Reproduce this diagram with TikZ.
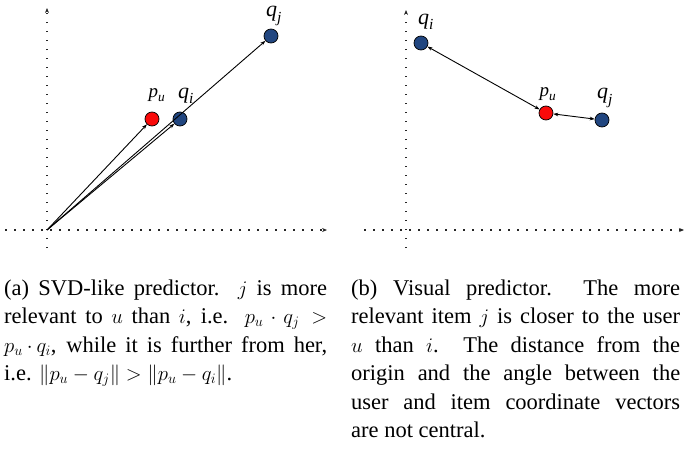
\documentclass[tikz,border=0pt]{standalone}
\usepackage{amsmath}
\usepackage{fontspec}
\setmainfont{Liberation Serif}
\usetikzlibrary{arrows.meta}
\definecolor{ptblue}{RGB}{33,70,128}
\definecolor{ptred}{RGB}{250,10,10}
\newcommand{\lbl}[2]{$\text{\itshape #1}_{\text{\itshape #2}}$}
\begin{document}
\begin{tikzpicture}[x=1pt,y=-1pt,
  axis/.style={line width=1.5pt,dash pattern=on 1.5pt off 7.5pt,black!85,-{Stealth[length=5pt,width=4pt]}},
  pt/.style={circle,draw=black,line width=0.7pt,minimum size=14pt,inner sep=0pt},
  vec/.style={line width=0.9pt,-{Stealth[length=5pt,width=3.5pt]}},
  dvec/.style={line width=0.9pt,{Stealth[length=5pt,width=3.5pt]}-{Stealth[length=5pt,width=3.5pt]}},
  plabel/.style={inner sep=0pt,font=\fontsize{19}{19}\selectfont},
  qlabel/.style={inner sep=0pt,font=\fontsize{22}{22}\selectfont},
  capt/.style={inner sep=0pt,anchor=base west}]
\useasboundingbox (0,0) rectangle (694,450);
% left panel
\coordinate (o1) at (47,230);
\coordinate (ya1) at (47,248);
\coordinate (yb1) at (47,8);
\coordinate (xa1) at (5,230);
\coordinate (xb1) at (327,230);
\draw[axis] (ya1) -- (yb1);
\draw[axis] (xa1) -- (xb1);
\node[pt,fill=ptred] (pu1) at (152,119) {};
\node[pt,fill=ptblue] (qi1) at (180,119) {};
\node[pt,fill=ptblue] (qj1) at (271,36) {};
\draw[vec] (o1) -- (pu1);
\draw[vec] (o1) -- (qi1);
\draw[vec] (o1) -- (qj1);
\node[plabel] (lpu1) at (157,95) {\lbl{p}{u}};
\node[qlabel] (lqi1) at (186,96) {\lbl{q}{i}};
\node[qlabel] (lqj1) at (274,16) {\lbl{q}{j}};
% right panel
\coordinate (ya2) at (406,248);
\coordinate (yb2) at (406,10);
\coordinate (xa2) at (364,230);
\coordinate (xb2) at (684,230);
\draw[axis] (ya2) -- (yb2);
\draw[axis] (xa2) -- (xb2);
\node[pt,fill=ptblue] (qi2) at (421,43) {};
\node[pt,fill=ptred] (pu2) at (546,113) {};
\node[pt,fill=ptblue] (qj2) at (602,120) {};
\draw[dvec] (qi2) -- (pu2);
\draw[dvec] (pu2) -- (qj2);
\node[qlabel] (lqi2) at (426,22) {\lbl{q}{i}};
\node[plabel] (lpu2) at (548,94) {\lbl{p}{u}};
\node[qlabel] (lqj2) at (605,98) {\lbl{q}{j}};
% captions
\node[capt] (capa) at (4,295) {\parbox[t]{323pt}{\fontsize{22.5}{28.5}\selectfont
(a) SVD-like predictor.\ \ $j$ is more\linebreak
relevant to $u$ than $i$, i.e. $p_u\cdot q_j >$\linebreak
$p_u\!\cdot\! q_i$, while it is further from her,\linebreak
i.e. $\|p_u - q_j\| > \|p_u - q_i\|$.}};
\node[capt] (capb) at (351,295) {\parbox[t]{329pt}{\fontsize{22.5}{28.5}\selectfont
(b) Visual predictor.\ \ The more\linebreak
relevant item $j$ is closer to the user\linebreak
$u$ than $i$.\ \ The distance from the\linebreak
origin and the angle between the\linebreak
user and item coordinate vectors\linebreak
are not central.}};
\end{tikzpicture}
\end{document}
